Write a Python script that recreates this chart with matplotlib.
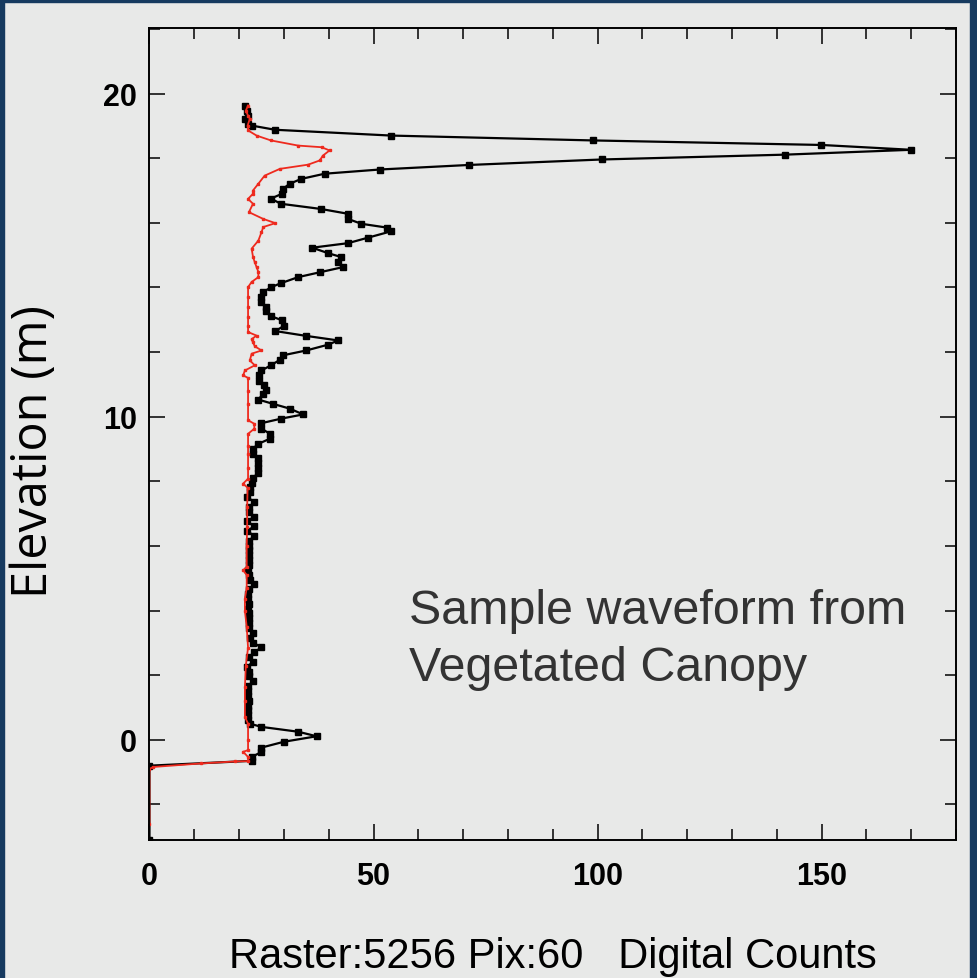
import matplotlib
matplotlib.use("Agg")
import matplotlib.pyplot as plt
from matplotlib.patches import Rectangle

# black waveform (elevation m, digital counts)
blk_elev = [19.63, 19.47, 19.32, 19.22, 19.06, 19.01, 18.88, 18.70, 18.55, 18.41,
            18.26, 18.11, 17.96, 17.79, 17.65, 17.52, 17.36, 17.21, 17.05, 16.90,
            16.75, 16.59, 16.43, 16.28, 16.12, 15.97, 15.85, 15.74, 15.54, 15.37,
            15.23, 15.06, 14.94, 14.78, 14.63, 14.47, 14.32, 14.13, 14.01, 13.86,
            13.70, 13.55, 13.39, 13.27, 13.11, 12.98, 12.82, 12.65, 12.50, 12.36,
            12.23, 12.05, 11.90, 11.76, 11.59, 11.43, 11.28, 11.12, 10.97, 10.83,
            10.71, 10.53, 10.40, 10.25, 10.07, 9.94, 9.80, 9.63, 9.47, 9.32,
            9.16, 9.01, 8.86, 8.71, 8.56, 8.41, 8.26, 8.11, 7.96, 7.81,
            7.66, 7.51, 7.36, 7.21, 7.06, 6.91, 6.76, 6.61, 6.46, 6.31,
            6.16, 6.01, 5.86, 5.71, 5.56, 5.41, 5.26, 5.11, 4.96, 4.81,
            4.66, 4.51, 4.36, 4.21, 4.06, 3.91, 3.76, 3.61, 3.46, 3.31,
            3.16, 3.01, 2.86, 2.71, 2.56, 2.41, 2.26, 2.11, 1.96, 1.81,
            1.66, 1.51, 1.36, 1.21, 1.06, 0.91, 0.76, 0.61, 0.50, 0.40,
            0.25, 0.11, -0.06, -0.24, -0.37, -0.53, -0.65, -0.80, -3.10]
blk_counts = [21.3, 21.8, 22.0, 21.3, 21.9, 22.8, 28.0, 54.0, 98.9, 149.9,
              170.0, 141.9, 100.9, 71.2, 51.4, 39.1, 33.9, 31.3, 29.8, 29.6,
              27.1, 29.3, 38.2, 44.3, 44.3, 47.3, 53.1, 54.0, 48.8, 44.3,
              36.3, 39.9, 42.8, 42.1, 43.2, 38.0, 33.2, 29.3, 27.2, 25.4,
              25.0, 25.0, 26.1, 26.1, 27.2, 29.6, 30.1, 28.1, 35.0, 42.1,
              39.9, 35.0, 29.8, 29.1, 27.1, 25.0, 24.5, 24.5, 25.5, 26.0,
              25.4, 24.3, 27.5, 31.3, 34.3, 29.4, 25.0, 25.0, 26.9, 26.9,
              24.3, 23.1, 23.1, 24.3, 24.3, 24.3, 24.3, 23.1, 22.8, 22.4,
              22.4, 21.8, 23.4, 22.3, 22.3, 23.4, 21.8, 23.4, 21.8, 23.4,
              22.2, 22.2, 22.3, 22.2, 22.2, 22.2, 22.0, 22.2, 22.4, 23.3,
              22.2, 22.0, 22.0, 22.2, 22.0, 22.3, 22.3, 22.2, 22.3, 23.1,
              22.4, 23.1, 25.0, 23.4, 22.3, 23.1, 21.8, 22.2, 22.3, 23.1,
              22.0, 22.0, 22.0, 22.2, 22.0, 22.0, 22.0, 22.0, 22.4, 25.0,
              33.2, 37.3, 30.0, 25.0, 25.0, 22.9, 22.9, 0.0, 0.0]

# red waveform
red_elev = [19.63, 19.47, 19.32, 19.22, 19.01, 18.86, 18.70, 18.55, 18.39, 18.34,
            18.24, 18.08, 17.93, 17.80, 17.67, 17.46, 17.21, 17.00, 16.90, 16.74,
            16.59, 16.33, 16.12, 15.99, 15.87, 15.71, 15.45, 15.20, 14.95, 14.78,
            14.63, 14.48, 14.32, 14.17, 14.01, 13.70, 13.40, 13.10, 12.80, 12.62,
            12.51, 12.40, 12.30, 12.18, 12.05, 11.95, 11.74, 11.59, 11.43, 11.28,
            11.20, 10.80, 10.40, 9.89, 9.78, 9.63, 9.47, 9.10, 8.86, 8.40,
            8.08, 7.93, 7.80, 7.20, 6.60, 6.00, 5.35, 5.25, 5.10, 4.70,
            4.37, 3.98, 3.50, 2.85, 2.30, 1.62, 1.20, 0.71, 0.50, 0.00,
            -0.32, -0.37, -0.53, -0.66, -0.67, -0.73, -0.84, -0.90, -2.60]
red_counts = [22.0, 21.5, 22.0, 22.4, 21.9, 22.0, 23.9, 27.1, 33.2, 38.4,
              40.2, 38.7, 38.0, 35.4, 29.1, 25.7, 24.3, 23.1, 23.1, 22.0,
              23.1, 22.2, 25.4, 28.1, 25.4, 25.0, 24.3, 22.8, 23.1, 23.5,
              23.9, 24.3, 24.3, 22.8, 22.0, 22.0, 22.0, 22.0, 22.0, 22.0,
              23.9, 22.8, 23.1, 23.5, 25.0, 22.8, 22.4, 23.5, 21.3, 20.9,
              22.0, 22.0, 22.0, 22.0, 23.4, 23.4, 22.0, 22.0, 22.0, 22.0,
              22.0, 20.9, 21.9, 21.8, 21.8, 21.7, 21.7, 20.9, 21.7, 21.7,
              21.3, 21.3, 21.7, 22.0, 21.5, 21.3, 21.3, 21.3, 22.0, 22.0,
              22.0, 20.9, 22.0, 22.0, 19.1, 11.6, 0.85, 0.0, 0.0]

x_ticks = [0, 50, 100, 150]
y_ticks = [0, 10, 20]

bg = "#e8e9e8"
navy = "#163a5f"

fig = plt.figure(figsize=(9.77, 9.79), dpi=100, facecolor=bg)
ax = fig.add_axes([0.153, 0.1413, 0.8255, 0.8291])
ax.set_facecolor(bg)

ax.plot(blk_counts, blk_elev, color="black", lw=1.6, marker="s", ms=5)
ax.plot(red_counts, red_elev, color="#ee2a1e", lw=1.3, marker="s", ms=2)

ax.set_xlim(0, 180)
ax.set_ylim(-3.09, 22.03)
ax.set_xticks(x_ticks)
ax.set_yticks(y_ticks)
ax.set_xticks(range(0, 181, 10), minor=True)
ax.set_yticks(range(-2, 23, 2), minor=True)

tick_font = ["Liberation Sans Narrow", "Liberation Sans", "DejaVu Sans"]
ax.tick_params(which="both", direction="in", top=True, right=True, width=1.1)
ax.tick_params(which="major", length=11.5)
ax.tick_params(which="minor", length=8)
ax.tick_params(axis="x", pad=15)
ax.tick_params(axis="y", pad=9)
for lab in ax.get_xticklabels() + ax.get_yticklabels():
    lab.set_family(tick_font)
    lab.set_fontsize(22)
    lab.set_weight("bold")
for s in ax.spines.values():
    s.set_linewidth(1.4)

ax.set_xlabel("Raster:5256 Pix:60   Digital Counts", family=tick_font,
              fontsize=30, labelpad=33)
ax.set_ylabel("Elevation (m)", family=["Open Sans", "DejaVu Sans"], fontsize=35)
ax.yaxis.set_label_coords(-0.112, 0.479)

ax.text(58, 3.6, "Sample waveform from", fontsize=34.8, color="#333333",
        family=["Liberation Sans", "DejaVu Sans"], va="baseline")
ax.text(58, 1.84, "Vegetated Canopy", fontsize=34.8, color="#333333",
        family=["Liberation Sans", "DejaVu Sans"], va="baseline")

# navy frame around the slide
fig.patches.append(Rectangle((0, 0), 4 / 977, 1, transform=fig.transFigure, color=navy))
fig.patches.append(Rectangle((1 - 7 / 977, 0), 7 / 977, 1, transform=fig.transFigure, color=navy))
fig.patches.append(Rectangle((0, 1 - 3 / 979), 1, 3 / 979, transform=fig.transFigure, color=navy))

fig.savefig("out.png", dpi=100, facecolor=bg)
